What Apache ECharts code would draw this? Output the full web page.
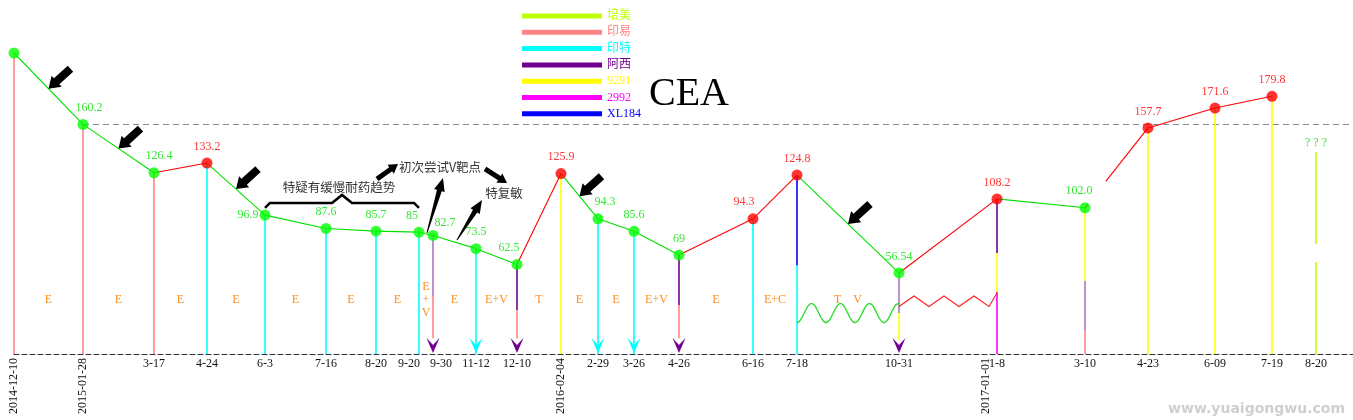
<!DOCTYPE html>
<html><head><meta charset="utf-8">
<script src="https://cdn.jsdelivr.net/npm/echarts@6/dist/echarts.min.js"></script>
<style>html,body{margin:0;padding:0;background:#fff}#c{width:1353px;height:420px}</style>
</head><body><div id="c"></div>
<script>
// ---------------- data ----------------
// position of each visit along the (uneven) time track
const xTrack = [0,69,140,193,251,312,362,405,419,462,503,547,584,620,665,739,783,885,983,1071,1134,1201,1258,1302];
const dateLabels = ['','','3-17','4-24','6-3','7-16','8-20','9-20','9-30','11-12','12-10','','2-29','3-26','4-26','6-16','7-18','10-31','1-8','3-10','4-23','6-09','7-19','8-20'];
const yearLabels = ['2014-12-10','2015-01-28','2016-02-04','2017-01-01'];
const yearTrack = [0,69,547,972];
const ceaValues = [210,160.2,126.4,133.2,96.9,87.6,85.7,85,82.7,73.5,62.5,125.9,94.3,85.6,69,94.3,124.8,56.54,108.2,102.0,157.7,171.6,179.8,null];
const ceaText = ['','160.2','126.4','133.2','96.9','87.6','85.7','85','82.7','73.5','62.5','125.9','94.3','85.6','69','94.3','124.8','56.54','108.2','102.0','157.7','171.6','179.8',''];
// regimen between consecutive visits
const regimens = ['E','E','E','E','E','E','E','E\n+\nV','E','E+V','T','E','E','E+V','E','E+C','T    V'];
const drugs = ['培美','印易','印特','阿西','9291','2992','XL184'];
// drug spans: [visit index, upper value, lower value, arrow into baseline, faint]
const drugSpans = {
  '培美': [[23,141,76.8,0,0],[23,64.2,0,0,0]],
  '印易': [[0,210,0,0,0],[1,160.2,0,0,0],[2,126.4,0,0,0],[8,40,11,0,0],[10,30.7,11,0,0],[14,34.2,11,0,0],[19,16.7,0,0,0]],
  '印特': [[3,133.2,0,0,0],[4,96.9,0,0,0],[5,87.6,0,0,0],[6,85.7,0,0,0],[7,85,0,0,0],[9,73.5,0,1,0],[12,94.3,0,1,0],[13,85.6,0,1,0],[15,94.3,0,0,0],[16,62,0,0,0]],
  '阿西': [[8,82.7,40,1,1],[10,62.5,30.7,1,0],[14,69,34.2,1,0],[17,56.54,28.6,1,1],[18,108.2,70.5,0,0],[19,51,16.7,0,1]],
  '9291': [[11,125.9,0,0,0],[17,28.6,10,0,0],[18,70.5,43.3,0,0],[19,102,51,0,0],[20,157.7,0,0,0],[21,171.6,0,0,0],[22,179.8,0,0,0]],
  '2992': [[18,43.3,0,0,0]],
  'XL184': [[16,124.8,62,0,0]]
};
// annotations
const warnSegments = [0,1,3,11,16];
const noteTexts = [['特疑有缓慢耐药趋势',325,116.5],['初次尝试V靶点',426,130.5],['特复敏',490,112.3]];
const pointerArrows = [[[363,122.1],[384,132.6],'small'],[[471,129.1],[493,119.3],'small'],[[413,84.5],[429,122.8],'wedge'],[[443,79.5],[468,107.4],'wedge']];
const unknownNote = ['? ? ?',1302,147.2];
const regimenLevel = 37.7;

// ---------------- styling ----------------
const SERIF = '"Liberation Serif","Times New Roman","DejaVu Serif","Noto Sans CJK SC",serif';
const CJK = '"Noto Sans CJK SC","Noto Sans",sans-serif';
const drugColors = {'培美':'#c0ff00','印易':'#ff8484','印特':'#00ffff','阿西':'#700090','9291':'#ffff00','2992':'#ff00ff','XL184':'#0000ff'};
const GREEN_DOT = '#00ff00', GREEN = '#00e000', RED = '#ff0000';
const XMAX = 1339;

const chart = echarts.init(document.getElementById('c'));

function arrowPoly(tail, tip, o) {
  const dx = tip[0]-tail[0], dy = tip[1]-tail[1], L = Math.hypot(dx,dy);
  const ux = dx/L, uy = dy/L, nx = -uy, ny = ux;
  const hb = [tip[0]-ux*o.head, tip[1]-uy*o.head];
  const P = (b,w) => [[b[0]+nx*w/2, b[1]+ny*w/2],[b[0]-nx*w/2, b[1]-ny*w/2]];
  const [hl,hr] = P(hb,o.headW), [bl,br] = P(hb,o.bodyHead), [tl,tr] = P(tail,o.bodyTail);
  return [tip, hl, bl, tl, tr, br, hr];
}

function dropRender(color) {
  return function (params, api) {
    const x = api.value(0), top = api.value(1), bot = api.value(2), arrow = api.value(3), faint = api.value(4);
    const p1 = api.coord([x, top]), p2 = api.coord([x, bot]);
    const kids = [{type:'line', shape:{x1:p1[0],y1:p1[1],x2:p2[0],y2:p2[1]}, style:{stroke:color, lineWidth:1.6, opacity: faint ? 0.55 : 1}}];
    if (arrow) {
      const b = api.coord([x, 0]);
      kids.push({type:'polygon', shape:{points:[[b[0],b[1]-1],[b[0]-6.5,b[1]-16],[b[0],b[1]-9],[b[0]+6.5,b[1]-16]]}, style:{fill:color}});
    }
    return {type:'group', children:kids};
  };
}

const drugSeries = drugs.map(d => ({
  name: d, type: 'custom', coordinateSystem: 'cartesian2d', z: 2, silent: true,
  itemStyle: {color: drugColors[d]},
  encode: {x: 0, y: [1, 2]},
  renderItem: dropRender(drugColors[d]),
  data: drugSpans[d].map(s => [xTrack[s[0]], s[1], s[2], s[3], s[4]])
}));

// trend segments
const partialSeg = {19: 0.33};
const trendData = [];
for (let i = 0; i < ceaValues.length - 1; i++) {
  const a = ceaValues[i], b = ceaValues[i+1];
  if (a == null || b == null) continue;
  const c = b > a ? RED : GREEN;
  let s = [xTrack[i], a];
  const e = [xTrack[i+1], b];
  if (partialSeg[i] != null) {
    const t = partialSeg[i];
    trendData.push({coords:[s, [s[0]+(e[0]-s[0])*0.05, a+(b-a)*0.05]], lineStyle:{color:c}});
    s = [s[0]+(e[0]-s[0])*t, a+(b-a)*t];
  }
  trendData.push({coords:[s, e], lineStyle:{color:c}});
}

const labelTweaks = {1:{offset:[6,0]},2:{offset:[5,0]},4:{position:'left',distance:1},7:{offset:[-7,0]},8:{offset:[12,4]},10:{offset:[-8,0]},12:{offset:[7,0]},15:{offset:[-9,0]},19:{offset:[-6,0]}};
const pointData = [];
ceaValues.forEach((v, i) => {
  if (v == null) return;
  const up = i > 0 && v > ceaValues[i-1];
  pointData.push({
    value: [xTrack[i], v],
    itemStyle: {color: up ? RED : GREEN_DOT},
    label: Object.assign({show: ceaText[i] !== '', formatter: ceaText[i], color: up ? RED : GREEN}, labelTweaks[i] || {})
  });
});

const regimenData = regimens.map((r, i) => [(xTrack[i] + xTrack[i+1]) / 2, regimenLevel, r]);

function renderNotes(params, api) {
  const C = (x, v) => api.coord([x, v]);
  const kids = [];
  warnSegments.forEach(i => {
    const a = C(xTrack[i], ceaValues[i]), b = C(xTrack[i+1], ceaValues[i+1]);
    const tip = [(a[0]+b[0])/2, (a[1]+b[1])/2];
    const tail = [tip[0]+22, tip[1]-20];
    kids.push({type:'polygon', shape:{points:arrowPoly(tail, tip, {head:11, headW:15, bodyHead:8, bodyTail:8})}, style:{fill:'#000'}});
  });
  pointerArrows.forEach(([t, h, kind]) => {
    const o = kind === 'wedge' ? {head:13, headW:11, bodyHead:5, bodyTail:1} : {head:9, headW:11, bodyHead:5, bodyTail:5};
    kids.push({type:'polygon', shape:{points:arrowPoly(C(t[0],t[1]), C(h[0],h[1]), o)}, style:{fill:'#000'}});
  });
  const L = C(xTrack[4], 101.9), R = C(xTrack[7], 101.9);
  const m = (L[0]+R[0])/2;
  kids.push({type:'polyline', shape:{points:[[L[0],L[1]],[L[0]+5,L[1]-5],[m-10,L[1]-5],[m,L[1]-13],[m+10,L[1]-5],[R[0]-5,R[1]-5],[R[0],R[1]]]}, style:{stroke:'#000', lineWidth:2.6, fill:null}});
  noteTexts.forEach(([t, x, v]) => {
    const p = C(x, v);
    kids.push({type:'text', x:p[0], y:p[1], style:{text:t, fill:'#333', font:'12.5px '+CJK, align:'center', verticalAlign:'middle', textAlign:'center', textVerticalAlign:'middle'}});
  });
  const q = C(unknownNote[1], unknownNote[2]);
  kids.push({type:'text', x:q[0], y:q[1], style:{text:unknownNote[0], fill:'#33dd33', font:'12px '+SERIF, align:'center', verticalAlign:'middle', textAlign:'center', textVerticalAlign:'middle'}});
  const w0 = C(xTrack[16], 28.6), w1 = C(xTrack[17], 28.6);
  const per = (w1[0]-w0[0]) / 3.52, wave = [];
  for (let x = w0[0]; x <= w1[0] + 0.01; x += 1) {
    wave.push([x, w0[1] - 9.5 * Math.sin(-Math.PI/2 + 2*Math.PI*(x - w0[0]) / per)]);
  }
  kids.push({type:'polyline', shape:{points:wave}, style:{stroke:'#22dd22', lineWidth:1.3, fill:null}});
  const zLo = C(xTrack[17], 33.1), zHi = C(xTrack[17], 40.5), zEnd = C(xTrack[18], 42.6);
  const zig = [[zLo[0], zLo[1]]];
  let k = 1;
  for (let x = zLo[0] + 15; x < zEnd[0] - 4; x += 15, k++) zig.push([x, k % 2 ? zHi[1] : zLo[1]]);
  zig.push([zEnd[0], zEnd[1]]);
  kids.push({type:'polyline', shape:{points:zig}, style:{stroke:'#ff2020', lineWidth:1.1, fill:null}});
  return {type:'group', children:kids};
}

const shortIdx = dateLabels.map((l, i) => l ? i : -1).filter(i => i >= 0);
const labelByX = {};
shortIdx.forEach(i => { labelByX[xTrack[i]] = i; });

chart.setOption({
  animation: false,
  backgroundColor: '#fff',
  title: {text: 'CEA', left: 649, top: 75, padding: 0, textStyle: {fontFamily: SERIF, fontSize: 40, fontWeight: 'normal', color: '#000'}},
  legend: {
    orient: 'vertical', left: 522, top: 10, padding: 0, itemWidth: 80, itemHeight: 5, itemGap: 4.3, icon: 'rect', selectedMode: false,
    textStyle: {fontSize: 12, fontFamily: SERIF, padding: 0},
    data: drugs.map(d => ({name: d, textStyle: {color: drugColors[d]}}))
  },
  grid: {left: 14, right: 0, top: 10, bottom: 66},
  xAxis: [
    {type: 'value', min: 0, max: XMAX, splitLine: {show: false}, axisTick: {show: false},
     axisLine: {show: true, lineStyle: {color: '#333', type: [5, 3], width: 1.2}},
     axisLabel: {customValues: shortIdx.map(i => xTrack[i]), showMinLabel: true, showMaxLabel: true, margin: 4,
       fontSize: 12, color: '#111', fontFamily: SERIF,
       formatter: v => { const i = labelByX[v]; const t = dateLabels[i]; if (i === 7) return '{l|' + t + '}'; if (i === 8) return '{r|' + t + '}'; return t; },
       rich: {l: {padding: [0, 20, 0, 0], fontSize: 12, fontFamily: SERIF, color: '#111'}, r: {padding: [0, 0, 0, 16], fontSize: 12, fontFamily: SERIF, color: '#111'}}}},
    {type: 'value', min: 0, max: XMAX, position: 'bottom', splitLine: {show: false}, axisTick: {show: false}, axisLine: {show: false},
     axisLabel: {customValues: yearTrack, showMinLabel: true, rotate: 90, margin: 4, fontSize: 12, color: '#111', fontFamily: SERIF,
       formatter: v => yearLabels[yearTrack.indexOf(v)]}}
  ],
  yAxis: {type: 'value', min: 0, max: 240, show: false},
  graphic: [{type: 'text', right: 8, bottom: 4, style: {text: 'www.yuaigongwu.com', fill: '#cfcfcf', font: 'bold 14px "DejaVu Sans", sans-serif'}}],
  series: drugSeries.concat([
    {type: 'lines', coordinateSystem: 'cartesian2d', z: 3, silent: true, lineStyle: {width: 1.1, opacity: 1, curveness: 0}, data: trendData},
    {type: 'scatter', z: 4, silent: true, symbol: 'circle', symbolSize: 11,
     label: {show: true, position: 'top', distance: 5, fontSize: 12, fontFamily: SERIF},
     markLine: {silent: true, symbol: ['none', 'none'], label: {show: false}, z: 1,
       lineStyle: {color: '#888', type: [6, 4], width: 1},
       data: [[{coord: [xTrack[1], ceaValues[1]]}, {coord: [XMAX, ceaValues[1]]}]]},
     data: pointData},
    {type: 'custom', coordinateSystem: 'cartesian2d', z: 5, silent: true, data: regimenData,
     renderItem: (params, api) => {
       const p = api.coord([api.value(0), api.value(1)]);
       return {type: 'text', x: p[0], y: p[1], style: {text: regimenData[params.dataIndex][2], fill: '#ff8c1a', font: '12px ' + SERIF, lineHeight: 13, align: 'center', verticalAlign: 'middle', textAlign: 'center', textVerticalAlign: 'middle'}};
     }},
    {type: 'custom', coordinateSystem: 'cartesian2d', z: 6, silent: true, data: [[0, 0]], renderItem: renderNotes}
  ])
});
</script>
</body></html>
